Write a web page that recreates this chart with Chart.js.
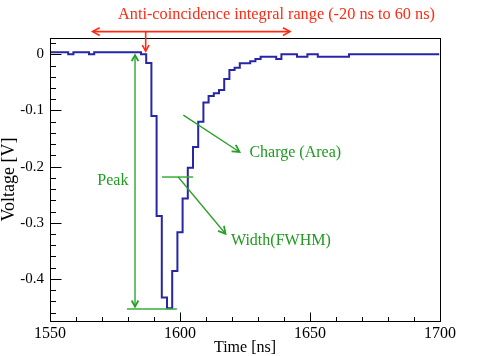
<!DOCTYPE html>
<html><head><meta charset="utf-8">
<script src="https://cdn.jsdelivr.net/npm/chart.js@4/dist/chart.umd.min.js"></script>
<style>html,body{margin:0;padding:0;background:#fff;}</style>
</head><body>
<canvas id="c" width="491" height="356"></canvas>
<script>
// ---- data ----
const stepStartNs = [1550,1557,1559,1565,1567,1585,1587,1589,1591,1593,1595,1597,1599,1601,1603,1605,1607,1609,1611,1613,1615,1617,1619,1621,1623,1627,1629,1631,1637,1639,1645,1649,1653,1665,1669,1699.7];
const stepVoltageV = [0,0.0036,0,0.0036,0,0.0036,0,-0.0155,-0.110,-0.288,-0.433,-0.4525,-0.386,-0.317,-0.257,-0.202,-0.165,-0.120,-0.0857,-0.0745,-0.0696,-0.0637,-0.044,-0.028,-0.024,-0.016,-0.0125,-0.0084,-0.0043,-0.0084,0,-0.0043,0,-0.0043,0,0];
const xTickValues = [1550,1600,1650,1700];
const yTickValues = [0,-0.1,-0.2,-0.3,-0.4];
const xTitle = 'Time [ns]';
const yTitle = 'Voltage [V]';
const rangeText = 'Anti-coincidence integral range (-20 ns to 60 ns)';

// annotation anchors in data units (time ns, voltage V)
const notes = {
  range: {t1:1566.4, t2:1642.3, v:0.0404, markT:1586.8, markV:0.0055, textT:1637.1, textV:0.0702},
  peak: {t:1582.7, vTop:-0.0013, vBot:-0.4495, lineT1:1579.6, lineT2:1598.8, lineV:-0.4535, textT:1574.2, textV:-0.2257},
  fwhm: {t1:1593.1, t2:1605.0, v:-0.2186, a1T:1599.3, a1V:-0.2186, a2T:1617.5, a2V:-0.3196, textT:1619.6, textV:-0.3316},
  charge: {a1T:1601.3, a1V:-0.1084, a2T:1622.9, a2V:-0.1739, textT:1626.7, textV:-0.1763}
};

const SERIF = '"Liberation Serif","DejaVu Serif",serif';
const RED = '#ff2a12', GREEN_T = '#1f991f', GREEN_L = '#3aae3a';

function chevron(ctx, x1, y1, x2, y2, len) {
  const a = Math.atan2(y2 - y1, x2 - x1), s = 0.5;
  ctx.beginPath();
  ctx.moveTo(x2 - len * Math.cos(a - s), y2 - len * Math.sin(a - s));
  ctx.lineTo(x2, y2);
  ctx.lineTo(x2 - len * Math.cos(a + s), y2 - len * Math.sin(a + s));
  ctx.stroke();
}
function line(ctx, x1, y1, x2, y2) { ctx.beginPath(); ctx.moveTo(x1, y1); ctx.lineTo(x2, y2); ctx.stroke(); }

const decor = {
  id: 'decor',
  afterDraw(chart) {
    const {ctx, chartArea: a, scales: {x, y}} = chart;
    const X = v => x.getPixelForValue(v), Y = v => y.getPixelForValue(v);
    ctx.save();
    // frame
    ctx.strokeStyle = '#000'; ctx.lineWidth = 1;
    ctx.strokeRect(Math.round(a.left) + 0.5, Math.round(a.top) + 0.5, Math.round(a.right - a.left), Math.round(a.bottom - a.top));
    const bx = Math.round(a.bottom) + 0.5, lx = Math.round(a.left) + 0.5;
    // x ticks (inside, upward)
    for (let t = 1550; t <= 1700; t += 10) {
      const px = Math.round(X(t)) + 0.5;
      const len = (t % 50 === 0) ? 9 : 4.5;
      line(ctx, px, bx, px, bx - len);
    }
    // y ticks (inside, rightward)
    for (let k = -23; k <= 1; k++) {
      const v = k * 0.02;
      const py = Math.round(Y(v)) + 0.5;
      const len = (k % 5 === 0) ? 11 : 5.5;
      line(ctx, lx, py, lx + len, py);
    }
    // red range annotation
    const r = notes.range;
    ctx.strokeStyle = RED; ctx.lineWidth = 1.6;
    line(ctx, X(r.t1), Y(r.v), X(r.t2), Y(r.v));
    chevron(ctx, X(r.t2), Y(r.v), X(r.t1), Y(r.v), 8);
    chevron(ctx, X(r.t1), Y(r.v), X(r.t2), Y(r.v), 8);
    line(ctx, X(r.markT), Y(r.v), X(r.markT), Y(r.markV));
    chevron(ctx, X(r.markT), Y(r.v), X(r.markT), Y(r.markV), 7);
    ctx.fillStyle = RED; ctx.font = '16.3px ' + SERIF; ctx.textAlign = 'center'; ctx.textBaseline = 'middle';
    ctx.fillText(rangeText, X(r.textT), Y(r.textV));
    ctx.font = '16px ' + SERIF;
    // green peak
    const p = notes.peak;
    ctx.strokeStyle = GREEN_L; ctx.lineWidth = 1.5;
    line(ctx, X(p.t), Y(p.vTop), X(p.t), Y(p.vBot));
    ctx.strokeStyle = '#22a022'; ctx.lineWidth = 1.8;
    chevron(ctx, X(p.t), Y(p.vBot), X(p.t), Y(p.vTop), 7);
    chevron(ctx, X(p.t), Y(p.vTop), X(p.t), Y(p.vBot), 7);
    ctx.strokeStyle = GREEN_L; ctx.lineWidth = 1.5;
    line(ctx, X(p.lineT1), Y(p.lineV), X(p.lineT2), Y(p.lineV));
    ctx.fillStyle = GREEN_T; ctx.textAlign = 'center';
    ctx.fillText('Peak', X(p.textT), Y(p.textV));
    // FWHM
    const f = notes.fwhm;
    line(ctx, X(f.t1), Y(f.v), X(f.t2), Y(f.v));
    ctx.strokeStyle = '#2a9e2a'; ctx.lineWidth = 1.3;
    line(ctx, X(f.a1T), Y(f.a1V), X(f.a2T), Y(f.a2V));
    ctx.lineWidth = 1.8;
    chevron(ctx, X(f.a1T), Y(f.a1V), X(f.a2T), Y(f.a2V), 8);
    ctx.textAlign = 'left';
    ctx.fillText('Width(FWHM)', X(f.textT), Y(f.textV));
    // Charge
    const c = notes.charge;
    ctx.lineWidth = 1.3;
    line(ctx, X(c.a1T), Y(c.a1V), X(c.a2T), Y(c.a2V));
    ctx.lineWidth = 1.8;
    chevron(ctx, X(c.a1T), Y(c.a1V), X(c.a2T), Y(c.a2V), 8);
    ctx.fillText('Charge (Area)', X(c.textT), Y(c.textV));
    ctx.restore();
  }
};

new Chart(document.getElementById('c'), {
  type: 'line',
  data: {
    datasets: [{
      data: stepStartNs.map((t, i) => ({x: t, y: stepVoltageV[i]})),
      stepped: 'after',
      borderColor: '#2626a6',
      borderWidth: 2,
      pointRadius: 0,
      fill: false
    }]
  },
  options: {
    responsive: false,
    animation: false,
    layout: {padding: {left: 0, right: 51, top: 38, bottom: 0}},
    plugins: {legend: {display: false}, tooltip: {enabled: false}},
    scales: {
      x: {
        type: 'linear', min: 1550, max: 1700,
        afterBuildTicks: s => { s.ticks = xTickValues.map(v => ({value: v})); },
        afterFit: s => { s.height = 35; },
        grid: {display: false, drawTicks: false},
        border: {display: false},
        ticks: {color: '#000', font: {family: SERIF, size: 16}, padding: 3, maxRotation: 0, autoSkip: false, callback: v => String(v)},
        title: {display: true, text: xTitle, color: '#000', font: {family: SERIF, size: 16, lineHeight: 1}, padding: {top: 0, bottom: 0}}
      },
      y: {
        type: 'linear', min: -0.475, max: 0.029,
        afterBuildTicks: s => { s.ticks = yTickValues.map(v => ({value: v})); },
        afterFit: s => { s.width = 50; },
        grid: {display: false, drawTicks: false},
        border: {display: false},
        ticks: {color: '#000', font: {family: SERIF, size: 15}, padding: 6, autoSkip: false, callback: v => String(v)},
        title: {display: true, text: yTitle, color: '#000', font: {family: SERIF, size: 18, lineHeight: 1}, padding: {top: 0, bottom: 0}}
      }
    }
  },
  plugins: [decor]
});
</script>
</body></html>
